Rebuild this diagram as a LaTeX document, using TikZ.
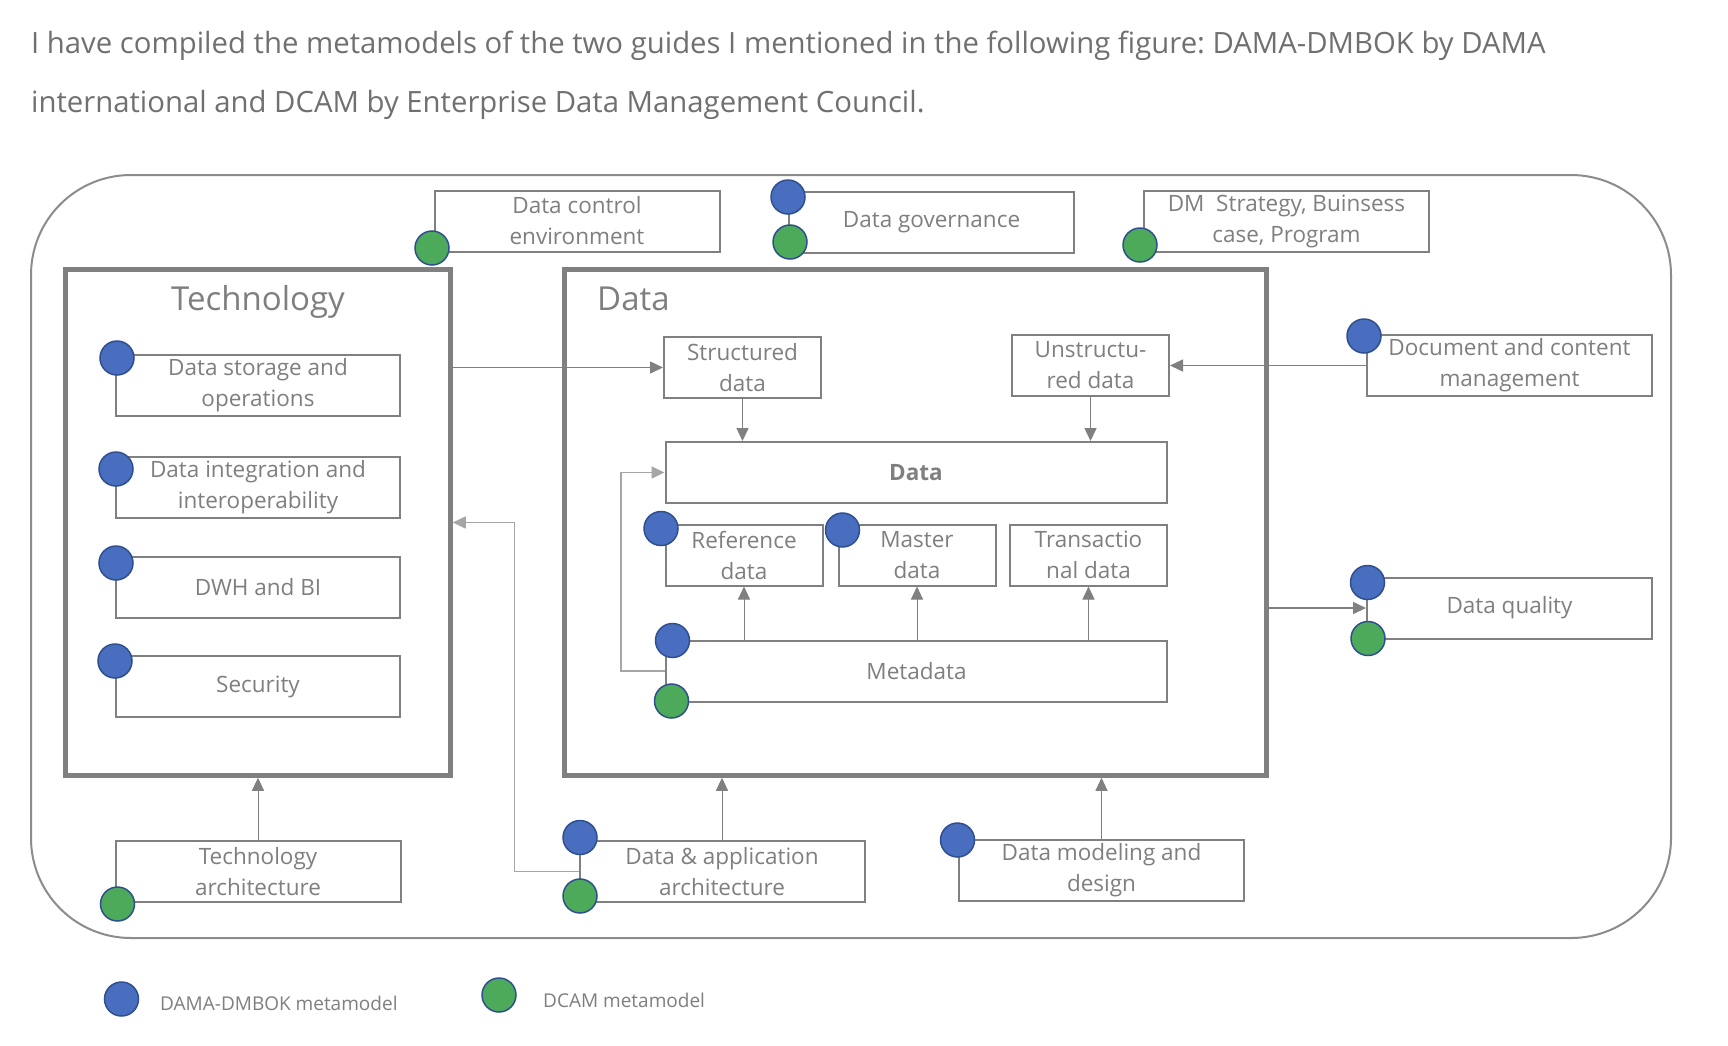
\documentclass[tikz,border=0pt]{standalone}
\usepackage{fontspec}
\setmainfont{Open Sans}
\usetikzlibrary{arrows.meta}
\definecolor{txt}{HTML}{7F7F7F}
\definecolor{hdr}{HTML}{707070}
\definecolor{ln}{HTML}{808080}
\definecolor{lnl}{HTML}{A6A6A6}
\definecolor{frame}{HTML}{8C8C8C}
\definecolor{bluefill}{HTML}{4A6EBF}
\definecolor{greenfill}{HTML}{4CAA5A}
\definecolor{dotedge}{HTML}{2F4F8F}
\frenchspacing
\begin{document}
\begin{tikzpicture}[x=1pt,y=-1pt,
  box/.style={draw=ln, line width=2pt, fill=white, minimum width=285pt, minimum height=61pt,
    align=center, text=txt, font=\fontsize{22.5}{31}\selectfont, inner sep=0pt},
  sbox/.style={box, minimum width=157pt},
  wbox/.style={box, minimum width=501pt},
  bigbox/.style={draw=ln, line width=4.5pt, minimum height=506pt, inner sep=0pt},
  ttl/.style={text=txt, font=\fontsize{33}{38}\selectfont, inner sep=0pt},
  bdot/.style={circle, draw=dotedge, line width=1.5pt, fill=bluefill, minimum size=34pt, inner sep=0pt},
  gdot/.style={bdot, fill=greenfill},
  conn/.style={draw=ln, line width=1.5pt, -{Triangle[length=13pt,width=12pt]}},
  connl/.style={conn, draw=lnl},
  hdrtxt/.style={text=hdr, font=\fontsize{29.3}{34}\selectfont, inner sep=0pt, anchor=base west},
  legtxt/.style={text=txt, font=\fontsize{19}{22}\selectfont, inner sep=0pt, anchor=base west},
]
\useasboundingbox (0,0) rectangle (1728,1045);
\fill[white] (0,0) rectangle (1728,1045);

% header
\node[hdrtxt] (h1) at (31,53) {I have compiled the metamodels of the two guides I mentioned in the following figure: DAMA-DMBOK by DAMA};
\node[hdrtxt] (h2) at (31,112) {international and DCAM by Enterprise Data Management Council.};

% outer frame
\draw[frame, line width=2pt, rounded corners=100pt] (31,175) rectangle (1671,938);

% big boxes
\node[bigbox, minimum width=385pt] (tech) at (258,522.5) {};
\node[bigbox, minimum width=702pt] (datab) at (915.5,522.5) {};
\node[ttl, anchor=base] (techt) at (258,310) {Technology};
\node[ttl, anchor=base west] (datat) at (597,310) {Data};

% top boxes
\node[box] (dce) at (577,221) {Data control\\environment};
\node[box] (gov) at (931.5,222) {Data governance};
\node[box] (dms) at (1286.5,221) {DM\ \ Strategy, Buinsess\\case, Program};

% technology inner boxes
\node[box, minimum width=284pt] (dso) at (258,385) {Data storage and\\operations};
\node[box, minimum width=284pt] (dii) at (258,487.5) {Data integration and\\interoperability};
\node[box, minimum width=284pt] (dwh) at (258,587.5) {DWH and BI};
\node[box, minimum width=284pt] (sec) at (258,686.5) {Security};

% data inner boxes
\node[sbox] (struct) at (742.5,367.5) {Structured\\data};
\node[sbox] (unstruct) at (1090.5,365.5) {Unstructu-\\red data};
\node[wbox] (datain) at (916,472.5) {\bfseries Data};
\node[sbox] (ref) at (744,555) {Reference\\data};
\node[sbox] (master) at (917,555) {Master\\data};
\node[sbox] (trans) at (1088.5,555) {Transactio\\nal data};
\node[wbox] (meta) at (916.5,671) {Metadata};

% right boxes
\node[box] (doc) at (1509.5,365.5) {Document and content\\management};
\node[box] (dq) at (1509.5,608) {Data quality};

% bottom boxes
\node[box] (techarch) at (258,871.5) {Technology\\architecture};
\node[box] (daa) at (722,871.5) {Data \& application\\architecture};
\node[box] (dmd) at (1101.5,870) {Data modeling and\\design};

% connectors
\draw[conn] (tech.east |- struct.west) -- (struct.west);
\draw[conn] (doc.west) -- (unstruct.east |- doc.west);
\draw[conn] (struct.south) -- (struct.south |- datain.north);
\draw[conn] (unstruct.south) -- (unstruct.south |- datain.north);
\draw[conn, line width=1pt] (meta.north -| ref.south) -- (ref.south);
\draw[conn, line width=1pt] (meta.north -| master.south) -- (master.south);
\draw[conn, line width=1pt] (meta.north -| trans.south) -- (trans.south);
\draw[connl] (meta.west) -- ++(-44,0) |- (datain.west);
\draw[conn] (datab.east |- dq.west) -- (dq.west);
\draw[connl] (daa.west) -- ++(-64,0) |- (tech.east);
\draw[conn, line width=1pt] (techarch.north) -- (techarch.north |- tech.south);
\draw[conn, line width=1pt] (daa.north) -- (daa.north |- datab.south);
\draw[conn, line width=1pt] (dmd.north) -- (dmd.north |- datab.south);

% metamodel markers
\node[gdot] (m1) at (432,248) {};
\node[bdot] (m2) at (788,197) {};
\node[gdot] (m3) at (790,242) {};
\node[gdot] (m4) at (1140,245) {};
\node[bdot] (m5) at (117,358) {};
\node[bdot] (m6) at (116,469) {};
\node[bdot] (m7) at (116,563) {};
\node[bdot] (m8) at (115,661) {};
\node[bdot] (m9) at (661,528.5) {};
\node[bdot] (m10) at (842.5,530) {};
\node[bdot] (m11) at (672.5,640.5) {};
\node[gdot] (m12) at (671.5,701) {};
\node[bdot] (m13) at (1364,336) {};
\node[bdot] (m14) at (1367.5,582.5) {};
\node[gdot] (m15) at (1368,638.5) {};
\node[gdot] (m16) at (117.5,904) {};
\node[bdot] (m17) at (580,837.5) {};
\node[gdot] (m18) at (580,896) {};
\node[bdot] (m19) at (957.5,840) {};

% legend
\node[bdot] (lb) at (121.5,999) {};
\node[legtxt] (lbt) at (160,1010.5) {DAMA-DMBOK metamodel};
\node[gdot] (lg) at (499,995) {};
\node[legtxt] (lgt) at (543,1007) {DCAM metamodel};
\end{tikzpicture}
\end{document}
